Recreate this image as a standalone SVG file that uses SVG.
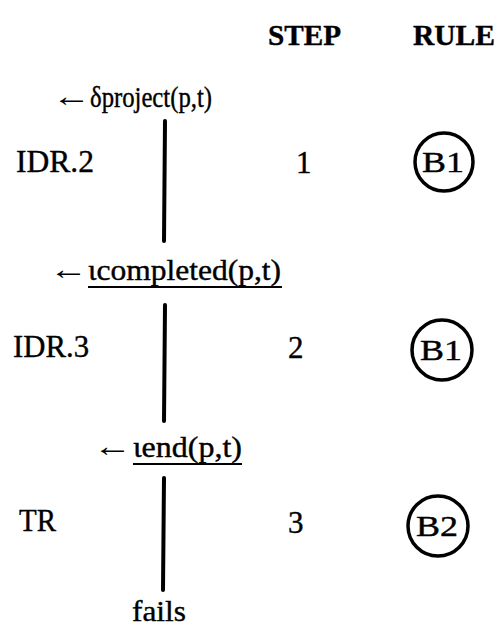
<svg xmlns="http://www.w3.org/2000/svg" width="498" height="634" viewBox="0 0 498 634">
<style>
text{font-family:"Liberation Serif","Times New Roman",serif;fill:#000;stroke:#000;stroke-width:0.4}
.hd{font-size:29px;font-weight:bold}
.t{font-size:31px}
.lb{font-size:30px}
.ar{font-size:30px;stroke:none}
.rl{font-size:30px;text-anchor:middle}
.c{fill:none;stroke:#000;stroke-width:3.5}
.v{stroke:#000;stroke-width:4;stroke-linecap:round}
.u{stroke:#000;stroke-width:1.8}
</style>
<rect width="498" height="634" fill="#fff"/>
<g id="header">
<text class="hd" x="268" y="45" textLength="73" lengthAdjust="spacingAndGlyphs">STEP</text>
<text class="hd" x="413" y="45" textLength="82" lengthAdjust="spacingAndGlyphs">RULE</text>
</g>
<g id="connectors">
<line class="v" x1="165" y1="121" x2="164" y2="241"/>
<line class="v" x1="165" y1="305" x2="164" y2="421"/>
<line class="v" x1="164" y1="478" x2="163" y2="590"/>
</g>
<g id="goal1">
<text class="ar" transform="translate(52,106) scale(1.3,1)">←</text>
<text class="lb" x="90" y="107" textLength="122" lengthAdjust="spacingAndGlyphs">δproject(p,t)</text>
</g>
<g id="goal2">
<text class="ar" transform="translate(49,279) scale(1.3,1)">←</text>
<text class="lb" x="88" y="280" textLength="193" lengthAdjust="spacingAndGlyphs">ιcompleted(p,t)</text>
<line class="u" x1="88" y1="287" x2="282" y2="287"/>
</g>
<g id="goal3">
<text class="ar" transform="translate(93,456) scale(1.3,1)">←</text>
<text class="lb" x="133" y="457" textLength="109" lengthAdjust="spacingAndGlyphs">ιend(p,t)</text>
<line class="u" x1="133" y1="464" x2="242" y2="464"/>
</g>
<g id="result">
<text class="lb" x="132" y="621" textLength="54" lengthAdjust="spacingAndGlyphs">fails</text>
</g>
<g id="row1">
<text class="t" x="16" y="172" textLength="78" lengthAdjust="spacingAndGlyphs">IDR.2</text>
<text class="t" x="296" y="173">1</text>
<circle class="c" cx="444" cy="162" r="29"/>
<text class="rl" x="443" y="172" textLength="42" lengthAdjust="spacingAndGlyphs">B1</text>
</g>
<g id="row2">
<text class="t" x="13" y="357" textLength="76" lengthAdjust="spacingAndGlyphs">IDR.3</text>
<text class="t" x="288" y="358">2</text>
<circle class="c" cx="442" cy="350" r="30"/>
<text class="rl" x="441" y="360" textLength="42" lengthAdjust="spacingAndGlyphs">B1</text>
</g>
<g id="row3">
<text class="t" x="19" y="531" textLength="37" lengthAdjust="spacingAndGlyphs">TR</text>
<text class="t" x="288" y="533">3</text>
<circle class="c" cx="438" cy="526" r="30"/>
<text class="rl" x="437" y="536" textLength="42" lengthAdjust="spacingAndGlyphs">B2</text>
</g>
</svg>
